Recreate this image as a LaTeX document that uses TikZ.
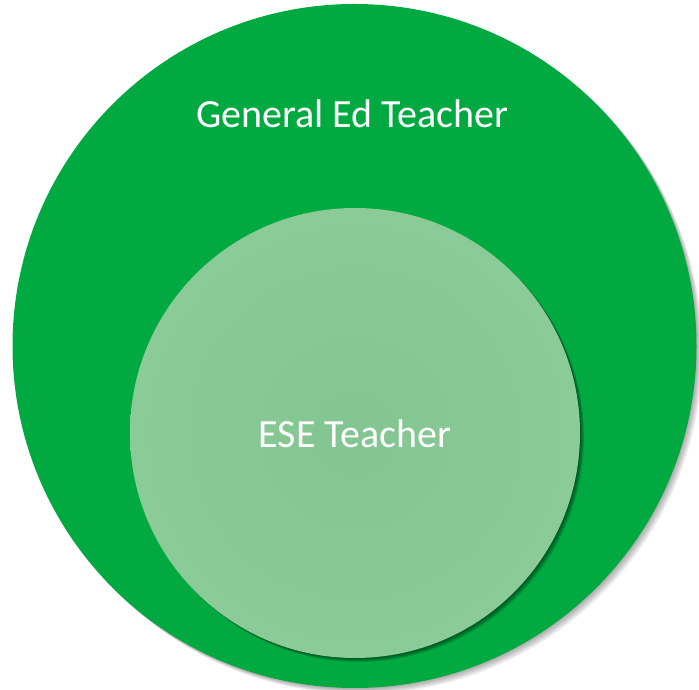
\documentclass[tikz,border=0pt]{standalone}
\usepackage{fontspec}
\setmainfont{Carlito}
\usepackage{xcolor}
\definecolor{gedgreen}{HTML}{00AA41}
\definecolor{eselight}{HTML}{8BCB98}
\definecolor{esemid}{HTML}{83C590}
\tikzset{
  ringlabel/.style={text=white,font=\fontsize{40}{48}\selectfont,inner sep=0pt,anchor=base}
}

\begin{document}
\begin{tikzpicture}[x=1pt,y=1pt]
\useasboundingbox (0,0) rectangle (699,690);
\foreach \s in {1,...,6}
  \fill[black,opacity=0.06](354.5+\s,344-\s)circle(342);
\fill[gedgreen](354.5,344)circle(342);
\foreach \s in {1,...,4}
  \fill[black,opacity=0.14](355+\s,257-\s)circle(225);
\shade[inner color=esemid,outer color=eselight](355,257)circle(225);
\node[ringlabel](gen) at (352.5,562){General Ed Teacher};
\node[ringlabel](ese) at (355,242){ESE Teacher};
\end{tikzpicture}
\end{document}
